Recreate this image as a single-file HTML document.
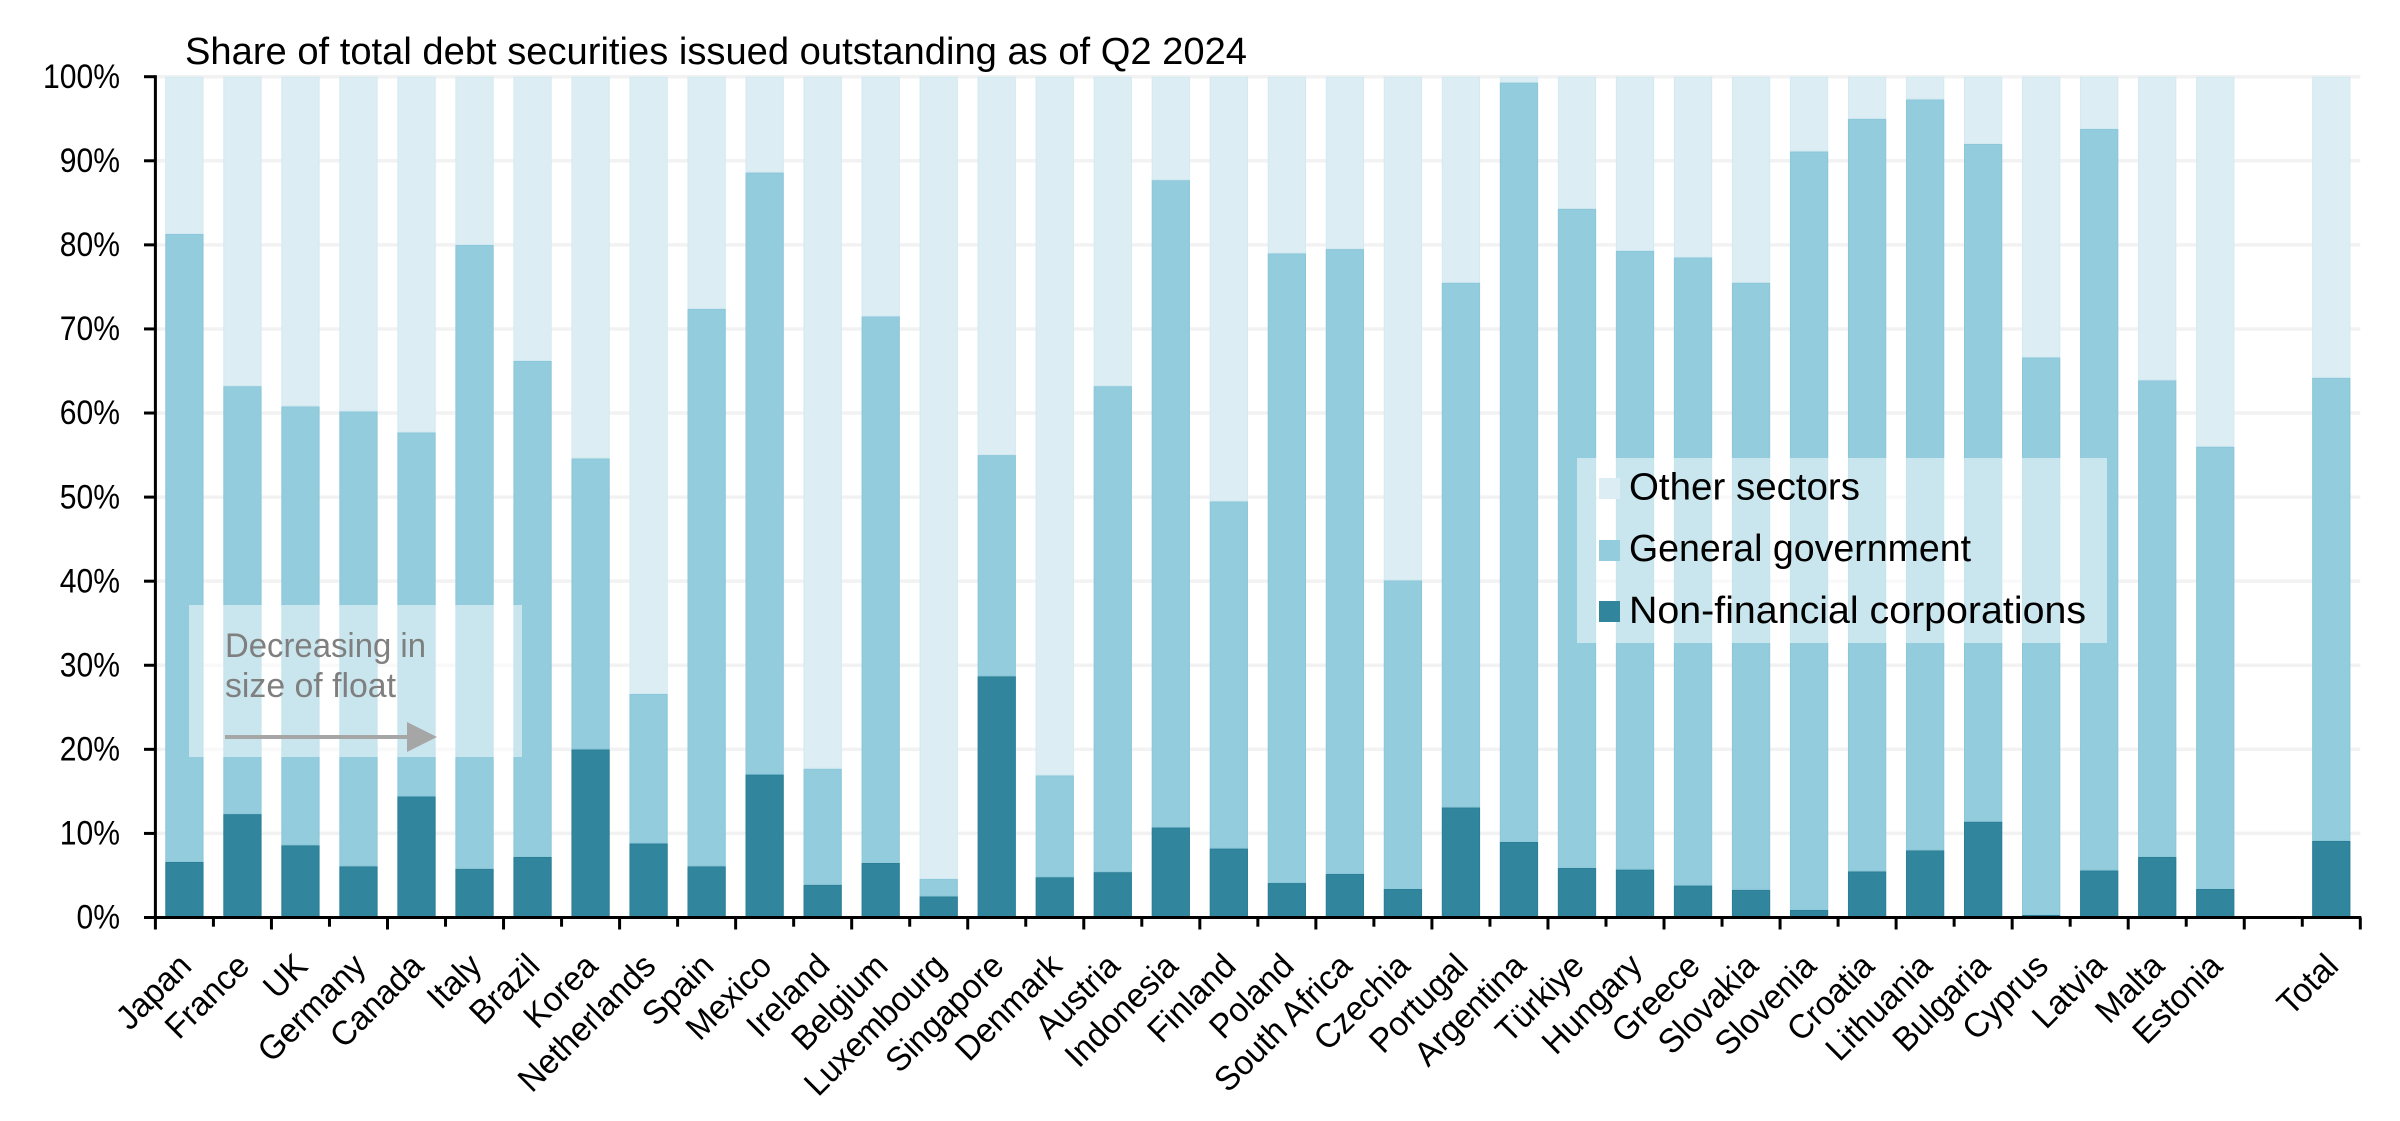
<!DOCTYPE html>
<html lang="en">
<head>
<meta charset="utf-8">
<title>Share of total debt securities issued</title>
<style>
html,body{margin:0;padding:0;background:#fff;width:2400px;height:1121px;overflow:hidden}
svg{display:block}
text{font-family:"Liberation Sans",sans-serif;fill:#000}
</style>
</head>
<body>
<svg id="chart" xmlns="http://www.w3.org/2000/svg" width="2400" height="1121" viewBox="0 0 2400 1121">
  <text x="185" y="64" font-size="38" textLength="1062" lengthAdjust="spacingAndGlyphs">Share of total debt securities issued outstanding as of Q2 2024</text>
  <g id="grid"></g>
  <g id="bars"></g>
  <g>
    <rect x="189" y="605" width="333" height="152" fill="#ffffff" fill-opacity="0.5"/>
    <text x="225" y="657" font-size="34" style="fill:#7f7f7f" textLength="201" lengthAdjust="spacingAndGlyphs">Decreasing in</text>
    <text x="225" y="697" font-size="34" style="fill:#7f7f7f" textLength="171" lengthAdjust="spacingAndGlyphs">size of float</text>
    <line x1="225" y1="737" x2="408" y2="737" stroke="#a6a6a6" stroke-width="4"/>
    <polygon points="407,722 437,737 407,752" fill="#a6a6a6"/>
  </g>
  <g>
    <rect x="1577" y="458" width="530" height="185" fill="#ffffff" fill-opacity="0.5"/>
    <rect x="1599" y="478" width="21" height="21" fill="#dcedf4"/>
    <text x="1629" y="499.5" font-size="38" textLength="231" lengthAdjust="spacingAndGlyphs">Other sectors</text>
    <rect x="1599" y="540" width="21" height="21" fill="#93ccdd"/>
    <text x="1629" y="561" font-size="38" textLength="342" lengthAdjust="spacingAndGlyphs">General government</text>
    <rect x="1599" y="601" width="21" height="21" fill="#31859c"/>
    <text x="1629" y="623" font-size="38" textLength="457" lengthAdjust="spacingAndGlyphs">Non-financial corporations</text>
  </g>
  <g id="axes"></g>
</svg>
<script>
const categories = ["Japan","France","UK","Germany","Canada","Italy","Brazil","Korea","Netherlands","Spain","Mexico","Ireland","Belgium","Luxembourg","Singapore","Denmark","Austria","Indonesia","Finland","Poland","South Africa","Czechia","Portugal","Argentina","Türkiye","Hungary","Greece","Slovakia","Slovenia","Croatia","Lithuania","Bulgaria","Cyprus","Latvia","Malta","Estonia","","Total"];
const nonFinancial = [6.6,12.3,8.6,6.1,14.4,5.8,7.2,20,8.8,6.1,17,3.9,6.5,2.5,28.7,4.8,5.4,10.7,8.2,4.1,5.2,3.4,13.1,9,5.9,5.7,3.8,3.3,0.9,5.5,8,11.4,0.3,5.6,7.2,3.4,0,9.1];
const generalGovernment = [74.7,50.9,52.2,54.1,43.3,74.2,59,34.6,17.8,66.3,71.6,13.8,65,2.1,26.3,12.1,57.8,77,41.3,74.9,74.3,36.7,62.4,90.3,78.4,73.6,74.7,72.2,90.2,89.5,89.3,80.6,66.3,88.2,56.7,52.6,0,55.1];
const otherSectors = [18.7,36.8,39.2,39.8,42.3,20,33.8,45.4,73.4,27.6,11.4,82.3,28.5,95.4,45,83.1,36.8,12.3,50.5,21,20.5,59.9,24.5,0.7,15.7,20.7,21.5,24.5,8.9,5,2.7,8,33.4,6.2,36.1,44,0,35.8];
const yTickValues = [0,10,20,30,40,50,60,70,80,90,100];

const NS = "http://www.w3.org/2000/svg";
const plotLeft = 155.4, plotRight = 2360.3, plotTop = 76.7, plotBottom = 917.5;
const slot = (plotRight - plotLeft) / categories.length;
const barWidth = slot * 0.66;
const xScale = i => plotLeft + slot * (i + 0.5);
const yScale = v => plotBottom - (plotBottom - plotTop) * v / 100;

function mk(tag, parent, attrs) {
  const el = document.createElementNS(NS, tag);
  for (const k in attrs) el.setAttribute(k, attrs[k]);
  parent.appendChild(el);
  return el;
}
const gridG = document.getElementById("grid");
const barsG = document.getElementById("bars");
const axesG = document.getElementById("axes");

yTickValues.forEach(v => {
  if (v > 0) {
    const gl = mk("line", gridG, {x1: plotLeft, x2: plotRight, y1: yScale(v), y2: yScale(v), stroke: "#f2f2f2", "stroke-width": 3.5});
    
    
  }
});

const seriesList = [
  {name: "non-financial", values: nonFinancial, fill: "#31859c", stroke: "#2a7f97"},
  {name: "general-government", values: generalGovernment, fill: "#93ccdd", stroke: "#8ac7d9"},
  {name: "other-sectors", values: otherSectors, fill: "#dcedf4", stroke: "#d3e9f1"}
];
categories.forEach((c, i) => {
  let base = 0;
  seriesList.forEach(s => {
    const v = s.values[i];
    if (v > 0) {
      const r = mk("rect", barsG, {x: xScale(i) - barWidth / 2 + 0.5, y: yScale(base + v) + 0.5, width: barWidth - 1, height: Math.max(yScale(base) - yScale(base + v) - 1, 0.5), fill: s.fill, stroke: s.stroke, "stroke-width": 1});
      
      
      r.setAttribute('data-series', s.name);
    }
    base += v;
  });
});

/* axes */
const yAxis = mk("line", axesG, {x1: plotLeft, x2: plotLeft, y1: plotTop - 1.5, y2: plotBottom + 1.5, stroke: "#000", "stroke-width": 3});


const xAxis = mk("line", axesG, {x1: plotLeft, x2: plotRight + 1, y1: plotBottom, y2: plotBottom, stroke: "#000", "stroke-width": 3});



yTickValues.forEach(v => {
  const t = mk("line", axesG, {x1: 144, x2: plotLeft, y1: yScale(v), y2: yScale(v), stroke: "#000", "stroke-width": 3});
  
  
  const lb = mk("text", axesG, {x: 120, y: yScale(v) + 11.2, "font-size": 34, "text-anchor": "end"});
  lb.textContent = v + "%";
  
  
  lb.setAttribute("textLength", (lb.getComputedTextLength() * 0.885).toFixed(1));
  lb.setAttribute("lengthAdjust", "spacingAndGlyphs");
});

for (let i = 0; i <= categories.length; i++) {
  const px = plotLeft + slot * i;
  const t = mk("line", axesG, {x1: px, x2: px, y1: plotBottom, y2: i % 2 === 0 ? 929.5 : 926.7, stroke: "#000", "stroke-width": 3});
  
  
}

categories.forEach((c, i) => {
  if (!c) return;
  const ax = xScale(i) + 9, ay = 968;
  const lb = mk("text", axesG, {x: ax, y: ay, "font-size": 34, "text-anchor": "end", transform: "rotate(-45 " + ax + " " + ay + ")"});
  lb.textContent = c;
  
  
  lb.setAttribute("textLength", (lb.getComputedTextLength() * 0.97).toFixed(1));
  lb.setAttribute("lengthAdjust", "spacingAndGlyphs");
});
</script>
</body>
</html>
